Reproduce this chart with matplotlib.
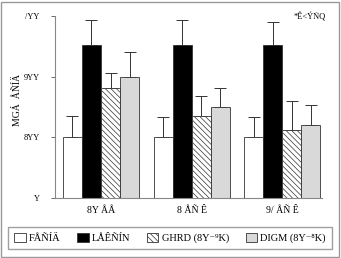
import matplotlib
matplotlib.use("Agg")
import matplotlib.pyplot as plt
import numpy as np
from matplotlib.patches import Rectangle

groups = ["8Y ÅÅ", "8 ÅÑ Ê", "9/ ÅÑ Ê"]
series = ["FÅÑÍÄ", "LÅÊÑÍN", "GHRD (8Y⁻⁹K)", "DIGM (8Y⁻⁸K)"]
control = [100, 100, 100]
control_err = [35, 33, 33]
insulin = [252, 252, 252]
insulin_err = [41, 41, 38]
ghrp = [181, 135, 112]
ghrp_err = [25, 33, 48]
digm = [200, 150, 120]
digm_err = [40, 31, 33]
yticks = [0, 100, 200, 300]
ytick_labels = ["Y", "8YY", "9YY", "/YY"]
ylabel = "MGÁ  ÅÑÍÄ"
note = "*Ê<ÝÑQ"

FAM = ['Liberation Serif', 'DejaVu Serif']
plt.rcParams['font.family'] = FAM
plt.rcParams['hatch.linewidth'] = 0.5
plt.rcParams['hatch.color'] = '#666666'

fig = plt.figure(figsize=(3.41, 2.58), dpi=100)
W, H = 341, 258
ax = fig.add_axes([55 / W, 1 - 198 / H, (322 - 55) / W, (198 - 16) / H])

x = np.arange(len(groups))
w = 0.21
vals = [control, insulin, ghrp, digm]
errs = [control_err, insulin_err, ghrp_err, digm_err]
faces = ['white', 'black', 'white', '#d9d9d9']
hatches = [None, None, '\\\\\\\\\\\\', None]
offs = [-1.5, -0.5, 0.5, 1.5]
handles = []
for v, e, fc, h, o, lab in zip(vals, errs, faces, hatches, offs, series):
    b = ax.bar(x + o * w, v, w, color=fc, edgecolor='#333333', linewidth=0.6,
               hatch=h, label=lab, zorder=2)
    ax.errorbar(x + o * w, v, yerr=[np.zeros(len(e)), e], fmt='none',
                ecolor='#333333', elinewidth=0.7, capsize=4, capthick=0.7, zorder=1)
    handles.append(b)

ax.set_xlim(-0.508, 2.44)
ax.set_ylim(0, 300)
ax.set_yticks(yticks)
ax.set_yticklabels(ytick_labels, fontsize=6)
ax.set_xticks(x)
ax.set_xticklabels(groups, fontsize=7)
ax.tick_params(axis='x', length=0, pad=6)
ax.tick_params(axis='y', length=3, width=0.6, pad=8, color='#555555')
for s in ['top', 'right']:
    ax.spines[s].set_visible(False)
ax.spines['left'].set_color('#888888')
ax.spines['bottom'].set_color('#888888')
ax.spines['left'].set_linewidth(0.8)
ax.spines['bottom'].set_linewidth(0.8)

fig.text(17 / W, 1 - 100 / H, ylabel, rotation=90, ha='center', va='center',
         fontsize=7)
fig.text(310 / W, 1 - 17 / H, note, ha='center', va='center', fontsize=6)

leg = fig.legend(handles=handles, loc='center', ncol=4,
                 bbox_to_anchor=(170 / W, 1 - 238 / H),
                 prop={'family': FAM, 'size': 7.5},
                 frameon=True, fancybox=False, edgecolor='#888888',
                 handlelength=1.1, handleheight=1.0, handletextpad=0.3,
                 columnspacing=1.6, borderpad=0.6)
leg.get_frame().set_linewidth(1.0)

fig.patches.append(Rectangle((1 / W, 1 / H), (W - 3) / W, (H - 3) / H,
                             transform=fig.transFigure, fill=False,
                             edgecolor='#999999', linewidth=1.0))

fig.savefig("out.png", dpi=100)
